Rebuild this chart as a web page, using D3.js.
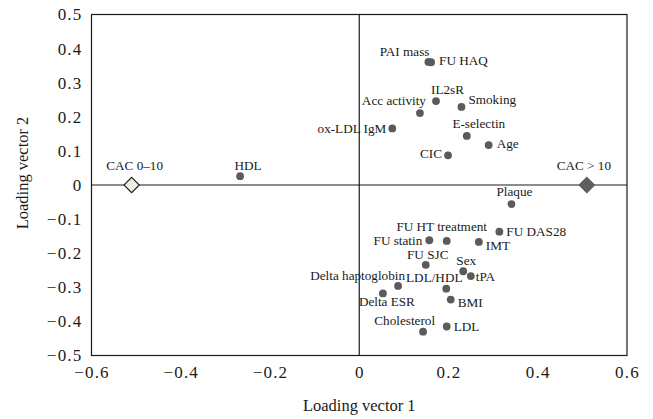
<!DOCTYPE html>
<html>
<head>
<meta charset="utf-8">
<script src="https://cdn.jsdelivr.net/npm/d3@7"></script>
<style>
  html, body { margin: 0; padding: 0; background: #fff; }
  svg { display: block; font-family: "Liberation Serif", "DejaVu Serif", serif; }
</style>
</head>
<body>
<svg id="chart" width="653" height="419"></svg>
<script>
// Variable loadings on the first two loading vectors
const variables = [
  "PAI mass", "FU HAQ", "IL2sR", "Smoking", "Acc activity", "ox-LDL IgM",
  "E-selectin", "Age", "CIC", "HDL", "Plaque", "FU DAS28", "FU HT treatment",
  "FU statin", "IMT", "FU SJC", "Sex", "tPA", "Delta haptoglobin", "LDL/HDL",
  "Delta ESR", "BMI", "Cholesterol", "LDL"
];
const loading1 = [
  0.155, 0.161, 0.172, 0.229, 0.136, 0.074,
  0.241, 0.290, 0.199, -0.267, 0.341, 0.314, 0.196,
  0.157, 0.268, 0.149, 0.233, 0.250, 0.087, 0.195,
  0.053, 0.205, 0.143, 0.196
];
const loading2 = [
  0.361, 0.360, 0.246, 0.229, 0.211, 0.166,
  0.144, 0.117, 0.087, 0.026, -0.056, -0.137, -0.164,
  -0.162, -0.167, -0.234, -0.253, -0.267, -0.296, -0.304,
  -0.318, -0.336, -0.430, -0.415
];

// Group centroids
const groups = ["CAC 0\u201310", "CAC > 10"];
const group1 = [-0.51, 0.51];
const group2 = [0, 0];

const xTicks = [-0.6, -0.4, -0.2, 0, 0.2, 0.4, 0.6];
const yTicks = [-0.5, -0.4, -0.3, -0.2, -0.1, 0, 0.1, 0.2, 0.3, 0.4, 0.5];

// Label placement relative to each marker: [anchor, dx, dy]
const labelPlacement = {
  "PAI mass": ["end", 1, -9],
  "FU HAQ": ["start", 8, 0],
  "IL2sR": ["start", -5, -10],
  "Smoking": ["start", 7, -6],
  "Acc activity": ["end", 6, -11],
  "ox-LDL IgM": ["end", -6, 2],
  "E-selectin": ["middle", 12, -11],
  "Age": ["start", 8, 0],
  "CIC": ["end", -6, 0],
  "HDL": ["middle", 8, -9],
  "Plaque": ["middle", 3, -11],
  "FU DAS28": ["start", 7, 1],
  "FU HT treatment": ["middle", -5, -13],
  "FU statin": ["end", -7, 2],
  "IMT": ["start", 7, 5],
  "FU SJC": ["middle", 2, -9],
  "Sex": ["middle", 3, -9],
  "tPA": ["start", 5, 2],
  "Delta haptoglobin": ["end", 7, -9],
  "LDL/HDL": ["middle", -12, -10],
  "Delta ESR": ["middle", 4, 10],
  "BMI": ["start", 7, 4],
  "Cholesterol": ["end", 12, -10],
  "LDL": ["start", 7, 1],
  "CAC 0\u201310": ["middle", 3, -18],
  "CAC > 10": ["middle", -3, -18]
};

const svg = d3.select("#chart");
const margin = { left: 91.5, right: 26, top: 14.5, bottom: 63.5 };
const W = 653, H = 419;
const x = d3.scaleLinear().domain([-0.6, 0.6]).range([margin.left, W - margin.right]);
const y = d3.scaleLinear().domain([-0.5, 0.5]).range([H - margin.bottom, margin.top]);

const ink = "#1a1a1a";
const dotColor = "#5b5b5b";

// Frame
svg.append("rect")
  .attr("x", x(-0.6)).attr("y", y(0.5))
  .attr("width", x(0.6) - x(-0.6)).attr("height", y(-0.5) - y(0.5))
  .attr("fill", "none").attr("stroke", ink).attr("stroke-width", 1.2);

// Zero lines
svg.append("line")
  .attr("x1", x(-0.6)).attr("x2", x(0.6)).attr("y1", y(0)).attr("y2", y(0))
  .attr("stroke", ink).attr("stroke-width", 1.2);
svg.append("line")
  .attr("x1", x(0)).attr("x2", x(0)).attr("y1", y(0.5)).attr("y2", y(-0.5))
  .attr("stroke", ink).attr("stroke-width", 1.2);

// Axes (labels only, no tick marks)
const fmt = d => d === 0 ? "0" : d3.format(".1f")(d).replace("-", "\u2212");
const xAxis = svg.append("g")
  .attr("transform", `translate(0,${y(-0.5)})`)
  .call(d3.axisBottom(x).tickValues(xTicks).tickFormat(fmt).tickSize(0).tickPadding(10));
const yAxis = svg.append("g")
  .attr("transform", `translate(${x(-0.6)},0)`)
  .call(d3.axisLeft(y).tickValues(yTicks).tickFormat(fmt).tickSize(0).tickPadding(9));
[xAxis, yAxis].forEach(g => {
  g.select(".domain").remove();
  g.selectAll("text")
    .attr("font-family", "Liberation Serif, serif")
    .attr("font-size", 17).attr("letter-spacing", 1.2).attr("fill", ink);
});

// Axis titles
svg.append("text")
  .attr("x", (x(-0.6) + x(0.6)) / 2).attr("y", 411)
  .attr("text-anchor", "middle").attr("font-size", 16.5).attr("fill", ink)
  .text("Loading vector 1");
svg.append("text")
  .attr("transform", `translate(28,173) rotate(-90)`)
  .attr("text-anchor", "middle").attr("font-size", 16.5).attr("fill", ink)
  .text("Loading vector 2");

// Variable points
const pts = variables.map((name, i) => ({ name, a: loading1[i], b: loading2[i] }));
svg.append("g").selectAll("circle").data(pts).join("circle")
  .attr("cx", d => x(d.a)).attr("cy", d => y(d.b)).attr("r", 3.9)
  .attr("fill", dotColor);

// Group diamonds
const cents = groups.map((name, i) => ({ name, a: group1[i], b: group2[i] }));
const diamond = d3.symbol().type(d3.symbolDiamond2).size(150);
svg.append("g").selectAll("path").data(cents).join("path")
  .attr("transform", d => `translate(${x(d.a)},${y(d.b)})`)
  .attr("d", diamond)
  .attr("fill", (d, i) => i === 0 ? "#eeeee2" : "#5e5e5e")
  .attr("stroke", (d, i) => i === 0 ? ink : "#5e5e5e")
  .attr("stroke-width", 1.1);

// Labels
svg.append("g").selectAll("text").data(pts.concat(cents)).join("text")
  .attr("x", d => x(d.a) + labelPlacement[d.name][1])
  .attr("y", d => y(d.b) + labelPlacement[d.name][2])
  .attr("text-anchor", d => labelPlacement[d.name][0])
  .attr("dominant-baseline", "middle")
  .attr("font-size", 13.2).attr("fill", ink)
  .text(d => d.name);
</script>
</body>
</html>
